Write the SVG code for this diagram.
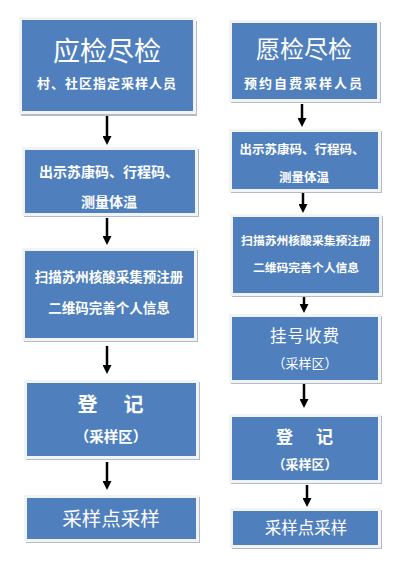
<svg xmlns="http://www.w3.org/2000/svg" width="401" height="570" viewBox="0 0 401 570">
<style>
.sh{fill:#b3bbc6}
.fr{fill:#f1f3f5}
.bx{fill:#4f80bd}
text{fill:#ffffff;font-family:"Noto Sans CJK SC","Noto Sans",sans-serif;text-anchor:middle;dominant-baseline:central}
.b{font-weight:700}
.ar{stroke:#000;stroke-width:2.5;fill:none;marker-end:url(#ah)}
</style>
<defs>
<marker id="ah" viewBox="0 0 10 10" refX="3.4" refY="5" markerWidth="9" markerHeight="9" markerUnits="userSpaceOnUse" orient="auto">
<path d="M0,0 L10,5 L0,10 z" fill="#000"/>
</marker>
</defs>
<rect width="401" height="570" fill="#ffffff"/>

<g id="L1">
<rect class="sh" x="21" y="21" width="176" height="95"/>
<rect class="fr" x="19" y="17" width="177" height="97"/>
<rect class="bx" x="22" y="20" width="171" height="91"/>
<text x="107" y="49" font-size="27">应检尽检</text>
<text class="b" x="107" y="82" font-size="13" letter-spacing="1">村、社区指定采样人员</text>
</g>
<g id="L2">
<rect class="sh" x="24" y="149" width="175" height="68"/>
<rect class="fr" x="22" y="147" width="176" height="69"/>
<rect class="bx" x="25" y="150" width="170" height="63"/>
<text class="b" x="109" y="171" font-size="14">出示苏康码、行程码、</text>
<text class="b" x="109" y="201" font-size="14">测量体温</text>
</g>
<g id="L3">
<rect class="sh" x="24" y="250" width="174" height="92"/>
<rect class="fr" x="22" y="248" width="175" height="93"/>
<rect class="bx" x="25" y="251" width="169" height="87"/>
<text class="b" x="109" y="276" font-size="13.5">扫描苏州核酸采集预注册</text>
<text class="b" x="109" y="307" font-size="13.5">二维码完善个人信息</text>
</g>
<g id="L4">
<rect class="sh" x="26" y="382" width="174" height="78"/>
<rect class="fr" x="24" y="380" width="175" height="79"/>
<rect class="bx" x="27" y="383" width="169" height="73"/>
<text class="b" x="112" y="403" font-size="20" letter-spacing="3">登　记</text>
<text class="b" x="111" y="435" font-size="14.5">（采样区）</text>
</g>
<g id="L5">
<rect class="sh" x="26" y="497" width="174" height="46"/>
<rect class="fr" x="24" y="495" width="175" height="47"/>
<rect class="bx" x="27" y="498" width="169" height="41"/>
<text x="111" y="517" font-size="19.5">采样点采样</text>
</g>

<g id="R1">
<rect class="sh" x="231" y="22" width="150" height="81"/>
<rect class="fr" x="229" y="20" width="151" height="82"/>
<rect class="bx" x="232" y="23" width="145" height="76"/>
<text x="304" y="47" font-size="24">愿检尽检</text>
<text class="b" x="304" y="82" font-size="13" letter-spacing="2">预约自费采样人员</text>
</g>
<g id="R2">
<rect class="sh" x="231" y="131" width="151" height="62"/>
<rect class="fr" x="229" y="129" width="152" height="63"/>
<rect class="bx" x="232" y="132" width="146" height="57"/>
<text class="b" x="302" y="148.5" font-size="12.5">出示苏康码、行程码、</text>
<text class="b" x="304" y="176" font-size="12.5">测量体温</text>
</g>
<g id="R3">
<rect class="sh" x="232" y="216" width="151" height="81"/>
<rect class="fr" x="230" y="214" width="152" height="82"/>
<rect class="bx" x="233" y="217" width="146" height="76"/>
<text class="b" x="306" y="239" font-size="11.8">扫描苏州核酸采集预注册</text>
<text class="b" x="306" y="266" font-size="11.8">二维码完善个人信息</text>
</g>
<g id="R4">
<rect class="sh" x="231" y="316" width="151" height="68"/>
<rect class="fr" x="229" y="314" width="152" height="69"/>
<rect class="bx" x="232" y="317" width="146" height="63"/>
<text x="305" y="335" font-size="16.5" letter-spacing="1">挂号收费</text>
<text x="305" y="362" font-size="13">（采样区）</text>
</g>
<g id="R5">
<rect class="sh" x="231" y="416" width="151" height="68"/>
<rect class="fr" x="229" y="414" width="152" height="69"/>
<rect class="bx" x="232" y="417" width="146" height="63"/>
<text class="b" x="306" y="435" font-size="17" letter-spacing="3">登　记</text>
<text class="b" x="305" y="463" font-size="13">（采样区）</text>
</g>
<g id="R6">
<rect class="sh" x="232" y="510" width="150" height="39"/>
<rect class="fr" x="230" y="508" width="151" height="40"/>
<rect class="bx" x="233" y="511" width="145" height="34"/>
<text x="306" y="527" font-size="16.5">采样点采样</text>
</g>

<g id="connectors">
<line class="ar" x1="107" y1="116" x2="107" y2="139"/>
<line class="ar" x1="107" y1="218" x2="107" y2="239"/>
<line class="ar" x1="107" y1="346" x2="107" y2="368"/>
<line class="ar" x1="107" y1="462" x2="107" y2="484"/>
<line class="ar" x1="302" y1="104" x2="302" y2="121"/>
<line class="ar" x1="303" y1="193" x2="303" y2="207"/>
<line class="ar" x1="304" y1="297" x2="304" y2="307"/>
<line class="ar" x1="304" y1="384" x2="304" y2="402"/>
<line class="ar" x1="307" y1="485" x2="307" y2="501"/>
</g>
</svg>
